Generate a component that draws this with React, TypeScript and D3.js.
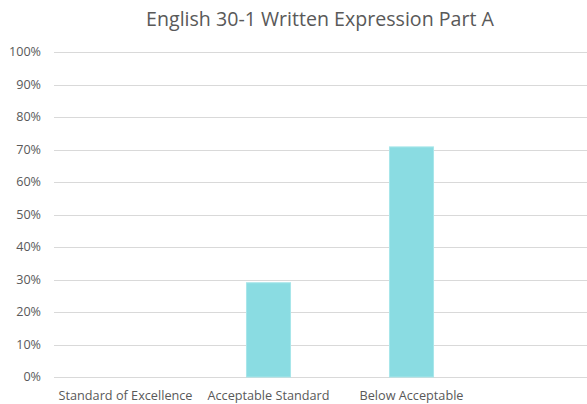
import React from "react";
import * as d3 from "d3";

// Share of students at each performance level
const categories: string[] = ["Standard of Excellence", "Acceptable Standard", "Below Acceptable", ""];
const shares: (number | null)[] = [0, 0.29, 0.708, null];
const yTicks: number[] = [0, 0.1, 0.2, 0.3, 0.4, 0.5, 0.6, 0.7, 0.8, 0.9, 1.0];
const title = "English 30-1 Written Expression Part A";

const W = 587;
const H = 404;
const FONT = "'Open Sans', 'Noto Sans', sans-serif";
const TEXT = "#595959";

export default function App() {
  const x = d3
    .scaleBand<string>()
    .domain(categories)
    .range([54, 626])
    .paddingInner(0.692)
    .paddingOuter(0.346);
  const y = d3.scaleLinear().domain([0, 1]).range([377, 52]);
  const fmt = d3.format(".0%");

  return (
    <svg
      width={W}
      height={H}
      style={{ position: "absolute", left: 0, top: 0, background: "#fff" }}
      fontFamily={FONT}
    >
      <rect width={W} height={H} fill="#fff" />
      <text x={320} y={26} textAnchor="middle" fontSize={19.6} fill={TEXT}>
        {title}
      </text>
      {yTicks.map((t) => (
        <g key={t}>
          <line
            x1={54}
            x2={626}
            y1={Math.round(y(t)) + 0.5}
            y2={Math.round(y(t)) + 0.5}
            stroke="#d9d9d9"
            strokeWidth={1}
          />
          <text x={41} y={y(t)} dy="0.35em" textAnchor="end" fontSize={12.6} fill={TEXT}>
            {fmt(t)}
          </text>
        </g>
      ))}
      {categories.map((c, i) => {
        const v = shares[i];
        const x0 = x(c) ?? 0;
        return (
          <g key={c + i}>
            {v != null && v > 0 && (
              <rect
                x={x0}
                y={y(v)}
                width={x.bandwidth()}
                height={y(0) - y(v)}
                fill="#8adce2"
                stroke="#a8e6ea"
                strokeWidth={1}
              />
            )}
            <text
              x={x0 + x.bandwidth() / 2}
              y={396}
              dy="0.35em"
              textAnchor="middle"
              fontSize={12.7}
              fill={TEXT}
            >
              {c}
            </text>
          </g>
        );
      })}
    </svg>
  );
}
